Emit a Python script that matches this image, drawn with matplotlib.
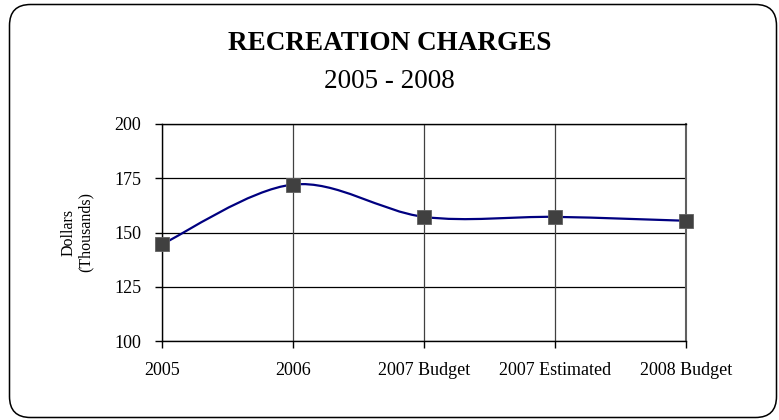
import matplotlib.pyplot as plt
import numpy as np
from matplotlib.path import Path
from matplotlib.patches import PathPatch, FancyBboxPatch

categories = ["2005", "2006", "2007 Budget", "2007 Estimated", "2008 Budget"]
charges = [144.6, 172.1, 157.2, 157.2, 155.4]
yticks = [100, 125, 150, 175, 200]

plt.rcParams['font.family'] = ['Liberation Serif', 'DejaVu Serif']

fig = plt.figure(figsize=(7.79, 4.2), dpi=100)

# rounded frame around the whole chart, drawn in pixel units
bg = fig.add_axes([0, 0, 1, 1])
bg.set_xlim(0, 779)
bg.set_ylim(420, 0)
bg.axis("off")
bg.add_patch(FancyBboxPatch((9.5, 4.5), 767, 413, boxstyle="round,pad=0,rounding_size=21",
                            fc="white", ec="black", lw=1.1))

ax = fig.add_axes([162/779, (420-341)/420, (686-162)/779, (341-124)/420])
ax.set_facecolor("none")

x = np.arange(len(categories))
y = np.array(charges)

# smoothed line: cubic bezier segments, catmull-rom style control points
verts = [(x[0], y[0])]
codes = [Path.MOVETO]
n = len(x)
for i in range(n - 1):
    p0 = np.array([x[max(i-1, 0)], y[max(i-1, 0)]])
    p1 = np.array([x[i], y[i]])
    p2 = np.array([x[i+1], y[i+1]])
    p3 = np.array([x[min(i+2, n-1)], y[min(i+2, n-1)]])
    c1 = p1 + (p2 - p0) / 6
    c2 = p2 - (p3 - p1) / 6
    verts += [tuple(c1), tuple(c2), tuple(p2)]
    codes += [Path.CURVE4] * 3
ax.add_patch(PathPatch(Path(verts, codes), fc="none", ec="#000080", lw=1.6, zorder=3))

ax.plot(x, y, linestyle="none", marker="s", ms=9.5, mfc="#404040", mec="#606060", mew=0.6,
        zorder=4, clip_on=False)

ax.set_xlim(0, n - 1)
ax.set_ylim(100, 200)
ax.set_yticks(yticks)
ax.set_xticks(x)
ax.set_xticklabels(categories)
ax.tick_params(labelsize=13, length=5, width=1, direction="out")
ax.tick_params(axis="x", pad=10)
ax.tick_params(axis="y", pad=10)

for v in yticks:
    ax.axhline(v, color="black", lw=0.9, zorder=1)
for xi in x:
    ax.axvline(xi, color="#404040", lw=0.9, zorder=1)
for s in ["left", "bottom", "top"]:
    ax.spines[s].set_color("black")
    ax.spines[s].set_linewidth(1)
ax.spines["right"].set_color("#606060")
ax.spines["right"].set_linewidth(1.5)

fig.text(77/779, (420-232)/420, "Dollars\n(Thousands)", rotation=90, ha="center", va="center",
         fontsize=11.5, linespacing=1.15)

fig.text(0.5, (420-44)/420, "RECREATION CHARGES", ha="center", va="center", fontsize=19.5, fontweight="bold")
fig.text(0.5, (420-82)/420, "2005 - 2008", ha="center", va="center", fontsize=19.5)

plt.savefig("out.png", dpi=100)
